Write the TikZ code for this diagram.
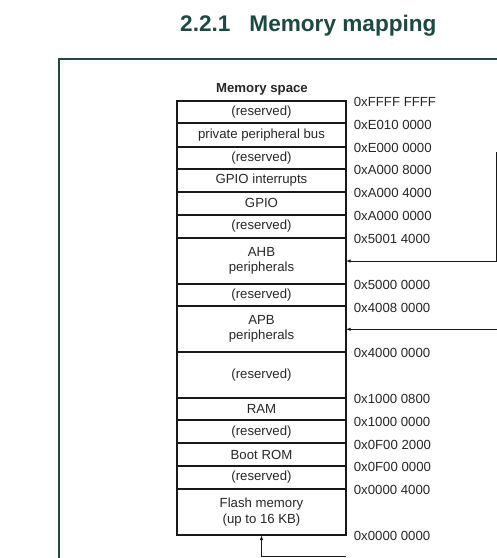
\documentclass[tikz,border=0pt]{standalone}
\usepackage{fontspec}
\setmainfont{Liberation Sans}
\usetikzlibrary{arrows.meta}
\definecolor{stgreen}{RGB}{28,74,64}
\begin{document}
\begin{tikzpicture}[x=1pt,y=-1pt,
  region/.style={draw=black!90, line width=1.8pt, minimum width=168.4pt, inner sep=0pt, outer sep=0pt, align=center, font=\fontsize{13.2}{15.6}\selectfont, anchor=north west, text=black!85},
  addr/.style={anchor=base west, inner sep=0pt, font=\fontsize{13.2}{15.6}\selectfont, text=black!85},
  conn/.style={line width=0.9pt, draw=black!90, -{Latex[length=5pt,width=3.5pt]}},
  frame/.style={draw=stgreen, line width=1.6pt}]
\useasboundingbox (0,0) rectangle (497,558);
% heading
\node[anchor=base west, inner sep=0pt, text=stgreen, font=\fontsize{22.6}{26}\bfseries\selectfont] (heading) at (180,31.7) {2.2.1\hspace{19pt}Memory mapping};
% frame
\draw[frame] (497,59) -| (59,558);
% memory map
\node[inner sep=0pt, font=\fontsize{13.2}{15.6}\bfseries\selectfont, text=black!85] (mspace) at (262,89.5) {Memory space};
\node[region, minimum height=22.6pt] (r1) at (177.3,100.7) {(reserved)};
\node[region, minimum height=23.4pt] (ppb) at (177.3,123.3) {private peripheral bus};
\node[region, minimum height=22.3pt] (r3) at (177.3,146.7) {(reserved)};
\node[region, minimum height=22.7pt] (gpioint) at (177.3,169) {GPIO interrupts};
\node[region, minimum height=23.3pt] (gpio) at (177.3,191.7) {GPIO};
\node[region, minimum height=22.7pt] (r6) at (177.3,215) {(reserved)};
\node[region, minimum height=46.6pt] (ahb) at (177.3,237.7) {AHB\\peripherals};
\node[region, minimum height=22pt] (r8) at (177.3,284.3) {(reserved)};
\node[region, minimum height=45.4pt] (apb) at (177.3,306.3) {APB\\peripherals};
\node[region, minimum height=46pt] (r10) at (177.3,351.7) {(reserved)};
\node[region, minimum height=22.6pt] (ram) at (177.3,397.7) {RAM};
\node[region, minimum height=23pt] (r12) at (177.3,420.3) {(reserved)};
\node[region, minimum height=22.4pt] (boot) at (177.3,443.3) {Boot ROM};
\node[region, minimum height=23pt] (r14) at (177.3,465.7) {(reserved)};
\node[region, minimum height=46.3pt] (flash) at (177.3,488.7) {Flash memory\\(up to 16 KB)};
% addresses
\node[addr] (a0) at (353.7,106.4) {0xFFFF FFFF};
\node[addr] (a1) at (353.7,129.3) {0xE010 0000};
\node[addr] (a2) at (353.7,152.4) {0xE000 0000};
\node[addr] (a3) at (353.7,174.8) {0xA000 8000};
\node[addr] (a4) at (353.7,197.4) {0xA000 4000};
\node[addr] (a5) at (353.7,220.6) {0xA000 0000};
\node[addr] (a6) at (353.7,243.3) {0x5001 4000};
\node[addr] (a7) at (353.7,289.0) {0x5000 0000};
\node[addr] (a8) at (353.7,312.0) {0x4008 0000};
\node[addr] (a9) at (353.7,357.3) {0x4000 0000};
\node[addr] (a10) at (353.7,403.3) {0x1000 0800};
\node[addr] (a11) at (353.7,426.0) {0x1000 0000};
\node[addr] (a12) at (353.7,449.0) {0x0F00 2000};
\node[addr] (a13) at (353.7,471.4) {0x0F00 0000};
\node[addr] (a14) at (353.7,494.4) {0x0000 4000};
\node[addr] (a15) at (353.7,540.6) {0x0000 0000};
% connectors
\coordinate (ahbsrc) at (496,152);
\coordinate (apbsrc) at (497.5,329.3);
\coordinate (flsrc) at (346,556.7);
\draw[conn] (ahbsrc) |- (ahb.east);
\draw[conn] (apbsrc) -- (apbsrc -| apb.east);
\draw[conn] (flsrc) -| (flash.south);
\end{tikzpicture}
\end{document}
